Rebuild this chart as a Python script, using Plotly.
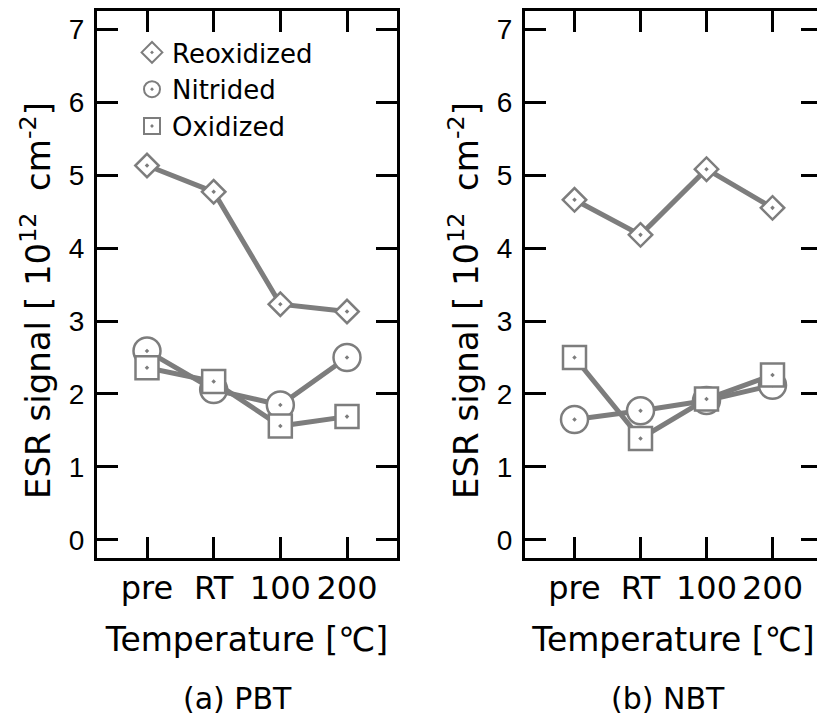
import plotly.graph_objects as go

categories = ["pre", "RT", "100", "200"]

pbt_reoxidized = [5.13, 4.77, 3.23, 3.13]
pbt_nitrided = [2.59, 2.06, 1.85, 2.50]
pbt_oxidized = [2.36, 2.17, 1.56, 1.69]

nbt_reoxidized = [4.66, 4.18, 5.08, 4.55]
nbt_nitrided = [1.65, 1.77, 1.91, 2.12]
nbt_oxidized = [2.50, 1.39, 1.93, 2.26]

series_names = ["Reoxidized", "Nitrided", "Oxidized"]
symbols = ["diamond-dot", "circle-dot", "square-dot"]
sizes = [18, 27, 23]

# page offset (browser body margin) compensation
OFF = 8
W, H = 825, 720
def px(x):
    return (x - OFF) / W
def py(y):
    return 1 - (y - OFF) / H

FONT = "DejaVu Sans, Noto Sans CJK JP, sans-serif"
NUMFONT = "Liberation Sans, DejaVu Sans, sans-serif"
GRAY = "#7d7d7d"

fig = go.Figure()

panels = [
    ("x", "y", [pbt_reoxidized, pbt_nitrided, pbt_oxidized]),
    ("x2", "y2", [nbt_reoxidized, nbt_nitrided, nbt_oxidized]),
]

for xa, ya, data in panels:
    for name, sym, sz, vals in zip(series_names, symbols, sizes, data):
        fig.add_trace(go.Scatter(
            x=categories, y=vals, xaxis=xa, yaxis=ya,
            mode="lines+markers", name=name, showlegend=False,
            line=dict(color=GRAY, width=5),
            marker=dict(symbol=sym, size=sz, color="white",
                        line=dict(color=GRAY, width=2.5)),
        ))

# legend entries
for name, sym, sz in zip(series_names, symbols, sizes):
    fig.add_trace(go.Scatter(
        x=[None], y=[None], xaxis="x", yaxis="y",
        mode="markers", name=name, showlegend=True,
        marker=dict(symbol=sym, size=sz, color="white",
                    line=dict(color=GRAY, width=2)),
    ))

axis_common = dict(
    showline=True, linecolor="black", linewidth=3, mirror="ticks",
    ticks="inside", ticklen=21, tickwidth=2.5, tickcolor="black",
    showgrid=False, zeroline=False,
)

xaxis_common = dict(
    type="category", range=[-0.75, 3.75], tickangle=0,
    tickfont=dict(size=32, family=FONT),
    title=dict(text="Temperature [℃]", font=dict(size=33, family=FONT), standoff=22),
    **axis_common,
)
yaxis_common = dict(
    range=[-0.247, 7.247], dtick=1,
    tickfont=dict(size=28, family=NUMFONT),
    ticklabelstandoff=4,
    **axis_common,
)

ytitle = "ESR signal [ 10<sup>12</sup>  cm<sup>-2</sup>]"

fig.update_layout(
    width=W, height=H,
    margin=dict(l=0, r=0, t=0, b=0),
    plot_bgcolor="white", paper_bgcolor="white",
    font=dict(family=FONT, color="black"),
    xaxis=dict(domain=[px(97), px(397)], anchor="y", **xaxis_common),
    yaxis=dict(domain=[py(558), py(11)], anchor="x", **yaxis_common),
    xaxis2=dict(domain=[px(525), px(822)], anchor="y2", **xaxis_common),
    yaxis2=dict(domain=[py(558), py(11)], anchor="x2", **yaxis_common),
    legend=dict(x=px(132), y=py(29), xanchor="left", yanchor="top",
                bgcolor="rgba(0,0,0,0)", font=dict(size=26, family=FONT),
                itemsizing="trace"),
    annotations=[
        dict(text=ytitle, textangle=-90, x=px(36), y=py(301),
             xref="paper", yref="paper", showarrow=False,
             font=dict(size=34, family=FONT), xanchor="center", yanchor="middle"),
        dict(text=ytitle, textangle=-90, x=px(464), y=py(301),
             xref="paper", yref="paper", showarrow=False,
             font=dict(size=34, family=FONT), xanchor="center", yanchor="middle"),
        dict(text="(a) PBT", x=px(237), y=py(698), xref="paper", yref="paper",
             showarrow=False, font=dict(size=30, family=FONT),
             xanchor="center", yanchor="middle"),
        dict(text="(b) NBT", x=px(668), y=py(698), xref="paper", yref="paper",
             showarrow=False, font=dict(size=30, family=FONT),
             xanchor="center", yanchor="middle"),
    ],
)

fig.write_html("out.html")
